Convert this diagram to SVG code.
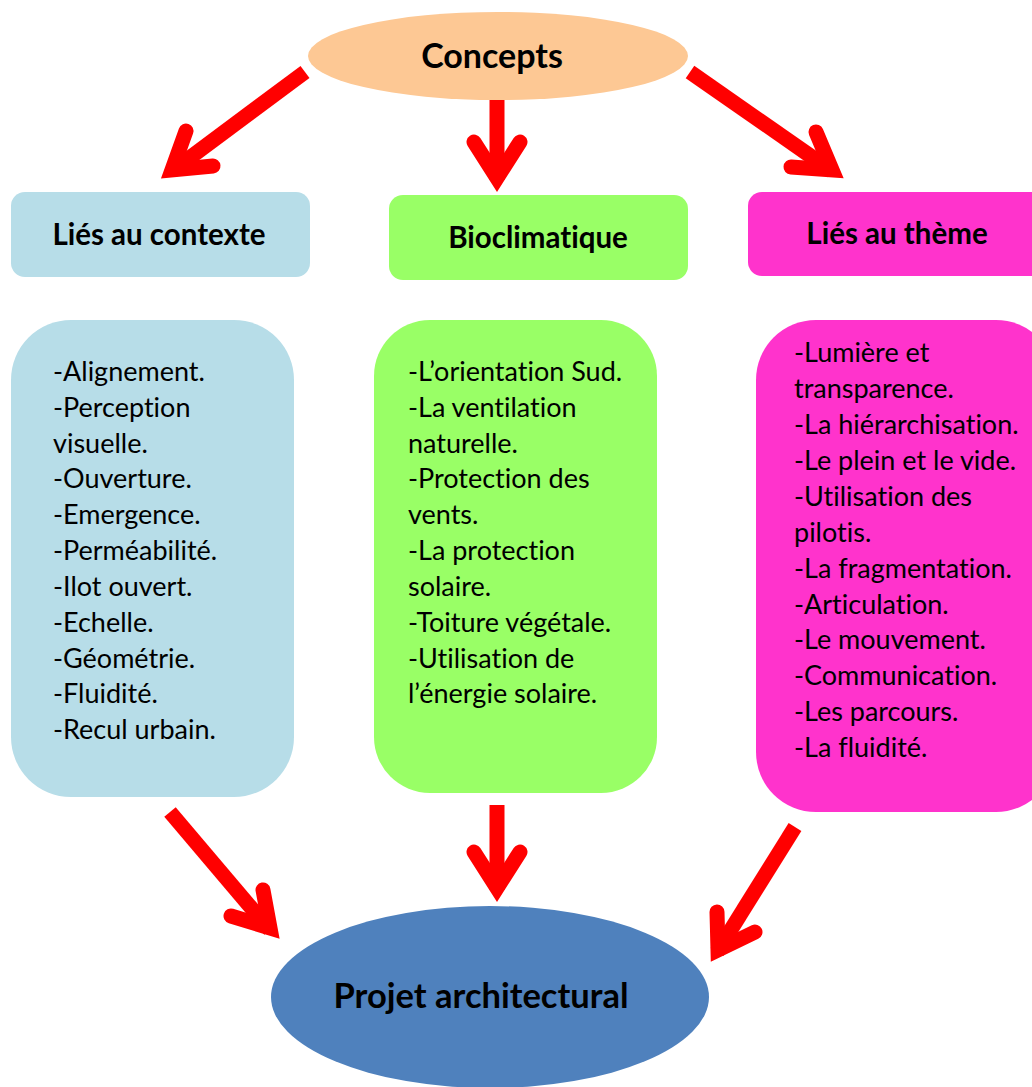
<svg xmlns="http://www.w3.org/2000/svg" width="1032" height="1087" viewBox="0 0 1032 1087">
<style>
.t{font-family:Lato,"Liberation Sans",sans-serif;font-size:27px;fill:#000;font-variant-ligatures:none}
.b{font-family:Lato,"Liberation Sans",sans-serif;font-weight:bold;font-size:29.5px;fill:#000;text-anchor:middle;font-variant-ligatures:none}
.sh{fill:none;stroke:#FF0000;stroke-width:15;stroke-linecap:butt}
.hd{fill:none;stroke:#FF0000;stroke-width:15;stroke-linecap:round;stroke-linejoin:miter;stroke-miterlimit:10}
</style>
<rect width="1032" height="1087" fill="#FFFFFF"/>
<g id="concepts">
<ellipse cx="498" cy="56" rx="190" ry="44" fill="#FDC894"/>
<text class="b" x="492" y="68" style="font-size:34px">Concepts</text>
</g>
<g id="contexte">
<rect x="11" y="192" width="299" height="85" rx="14" fill="#B7DDE8"/>
<text class="b" x="159" y="245">Liés au contexte</text>
</g>
<g id="bioclimatique">
<rect x="389" y="195" width="299" height="85" rx="14" fill="#99FF66"/>
<text class="b" x="538" y="248">Bioclimatique</text>
</g>
<g id="theme">
<rect x="748" y="192" width="300" height="84" rx="14" fill="#FF33CC"/>
<text class="b" x="897" y="244">Liés au thème</text>
</g>
<g id="liste-contexte">
<rect x="11" y="320" width="283" height="477" rx="60" fill="#B7DDE8"/>
<text class="t">
<tspan x="53" y="381">-Alignement.</tspan>
<tspan x="53" y="417">-Perception</tspan>
<tspan x="53" y="453">visuelle.</tspan>
<tspan x="53" y="488">-Ouverture.</tspan>
<tspan x="53" y="524">-Emergence.</tspan>
<tspan x="53" y="560">-Perméabilité.</tspan>
<tspan x="53" y="596">-Ilot ouvert.</tspan>
<tspan x="53" y="632">-Echelle.</tspan>
<tspan x="53" y="668">-Géométrie.</tspan>
<tspan x="53" y="703">-Fluidité.</tspan>
<tspan x="53" y="739">-Recul urbain.</tspan>
</text>
</g>
<g id="liste-bioclimatique">
<rect x="374" y="320" width="283" height="473" rx="56" fill="#99FF66"/>
<text class="t">
<tspan x="408" y="381">-L’orientation Sud.</tspan>
<tspan x="408" y="417">-La ventilation</tspan>
<tspan x="408" y="453">naturelle.</tspan>
<tspan x="408" y="488">-Protection des</tspan>
<tspan x="408" y="524">vents.</tspan>
<tspan x="408" y="560">-La protection</tspan>
<tspan x="408" y="596">solaire.</tspan>
<tspan x="408" y="632">-Toiture végétale.</tspan>
<tspan x="408" y="668">-Utilisation de</tspan>
<tspan x="408" y="703">l’énergie solaire.</tspan>
</text>
</g>
<g id="liste-theme">
<rect x="756" y="320" width="300" height="492" rx="60" fill="#FF33CC"/>
<text class="t">
<tspan x="794" y="362">-Lumière et</tspan>
<tspan x="794" y="398">transparence.</tspan>
<tspan x="794" y="434">-La hiérarchisation.</tspan>
<tspan x="794" y="470">-Le plein et le vide.</tspan>
<tspan x="794" y="506">-Utilisation des</tspan>
<tspan x="794" y="542">pilotis.</tspan>
<tspan x="794" y="578">-La fragmentation.</tspan>
<tspan x="794" y="614">-Articulation.</tspan>
<tspan x="794" y="649">-Le mouvement.</tspan>
<tspan x="794" y="685">-Communication.</tspan>
<tspan x="794" y="721">-Les parcours.</tspan>
<tspan x="794" y="757">-La fluidité.</tspan>
</text>
</g>
<g id="projet">
<ellipse cx="490" cy="997" rx="219" ry="91" fill="#4F81BD"/>
<text class="b" x="481" y="1008" style="font-size:34.5px">Projet architectural</text>
</g>
<g id="connectors">
<path class="sh" d="M305 72 L172 171"/>
<path class="hd" d="M186 131 L172 170 L213 166"/>
<path class="sh" d="M497 100 L497 180"/>
<path class="hd" d="M474 142 L497 178 L520 142"/>
<path class="sh" d="M690 72 L832 171"/>
<path class="hd" d="M816 132 L832 170 L791 167"/>
<path class="sh" d="M170 812 L270 930"/>
<path class="hd" d="M263 890 L270 928 L231 916"/>
<path class="sh" d="M497 805 L497 890"/>
<path class="hd" d="M474 852 L497 888 L520 852"/>
<path class="sh" d="M795 827 L717 952"/>
<path class="hd" d="M717 912 L718 950 L755 932"/>
</g>
</svg>
